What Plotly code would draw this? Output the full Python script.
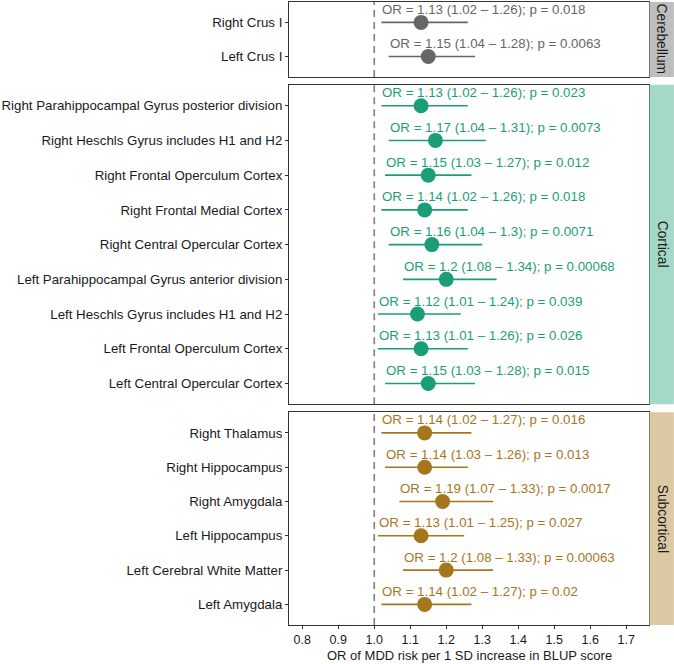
import plotly.graph_objects as go

# ---- data ----
cereb_regions = ["Right Crus I", "Left Crus I"]
cereb_or = [1.13, 1.15]
cereb_lo = [1.02, 1.04]
cereb_hi = [1.26, 1.28]
cereb_p = ["0.018", "0.0063"]

cort_regions = [
    "Right Parahippocampal Gyrus posterior division",
    "Right Heschls Gyrus includes H1 and H2",
    "Right Frontal Operculum Cortex",
    "Right Frontal Medial Cortex",
    "Right Central Opercular Cortex",
    "Left Parahippocampal Gyrus anterior division",
    "Left Heschls Gyrus includes H1 and H2",
    "Left Frontal Operculum Cortex",
    "Left Central Opercular Cortex",
]
cort_or = [1.13, 1.17, 1.15, 1.14, 1.16, 1.2, 1.12, 1.13, 1.15]
cort_lo = [1.02, 1.04, 1.03, 1.02, 1.04, 1.08, 1.01, 1.01, 1.03]
cort_hi = [1.26, 1.31, 1.27, 1.26, 1.3, 1.34, 1.24, 1.26, 1.28]
cort_p = ["0.023", "0.0073", "0.012", "0.018", "0.0071", "0.00068", "0.039", "0.026", "0.015"]

sub_regions = [
    "Right Thalamus",
    "Right Hippocampus",
    "Right Amygdala",
    "Left Hippocampus",
    "Left Cerebral White Matter",
    "Left Amygdala",
]
sub_or = [1.14, 1.14, 1.19, 1.13, 1.2, 1.14]
sub_lo = [1.02, 1.03, 1.07, 1.01, 1.08, 1.02]
sub_hi = [1.27, 1.26, 1.33, 1.25, 1.33, 1.27]
sub_p = ["0.016", "0.013", "0.0017", "0.027", "0.00063", "0.02"]

groups = ["Cerebellum", "Cortical", "Subcortical"]
x_ticks = [0.8, 0.9, 1.0, 1.1, 1.2, 1.3, 1.4, 1.5, 1.6, 1.7]
x_title = "OR of MDD risk per 1 SD increase in BLUP score"

# ---- styling ----
point_colors = ["#666666", "#1B9E77", "#A6761D"]
strip_colors = ["#BEBEBE", "#A4D8C8", "#DCC9A3"]
FONT = "Liberation Sans, Arial, sans-serif"
FS = 13.3
W, H = 674, 664
ML, MR, MT, MB = 287, 25, 1, 39
plot_h = H - MT - MB
plot_w = W - ML - MR
bottom_px = H - MB

def frac(py):
    return (bottom_px - py) / plot_h

domains = [
    [frac(76), 1.0],
    [frac(404), frac(84)],
    [0.0, frac(412)],
]

data = [
    (cereb_regions, cereb_or, cereb_lo, cereb_hi, cereb_p),
    (cort_regions, cort_or, cort_lo, cort_hi, cort_p),
    (sub_regions, sub_or, sub_lo, sub_hi, sub_p),
]

fig = go.Figure()
annotations = []
shapes = []
xrange_ = [0.763, 1.7635]

for i, (regions, ors, los, his, ps) in enumerate(data):
    n = i + 1
    xa = "x" if n == 1 else f"x{n}"
    ya = "y" if n == 1 else f"y{n}"
    col = point_colors[i]
    fig.add_trace(go.Scatter(
        x=ors, y=regions, xaxis=xa, yaxis=ya, mode="markers",
        marker=dict(size=15, color=col),
        error_x=dict(type="data", symmetric=False,
                     array=[h - o for h, o in zip(his, ors)],
                     arrayminus=[o - l for o, l in zip(ors, los)],
                     width=0, thickness=1.6, color=col),
        showlegend=False, hoverinfo="skip",
    ))
    for r, o, l, h, p in zip(regions, ors, los, his, ps):
        annotations.append(dict(
            x=l, y=r, xref=xa, yref=ya, xanchor="left", yanchor="middle",
            yshift=13, xshift=-1, showarrow=False,
            text=f"OR = {o:g} ({l:g} \u2013 {h:g}); p = {p}",
            font=dict(family=FONT, size=FS, color=col),
        ))
    # dashed reference line at 1.0
    shapes.append(dict(type="line", xref=xa, yref=f"{ya} domain",
                       x0=1.0, x1=1.0, y0=0, y1=1,
                       line=dict(color="#7F7F7F", width=1.6, dash="7px,5px"),
                       layer="below"))
    # strip
    d = domains[i]
    shapes.append(dict(type="rect", xref="paper", yref="paper",
                       x0=1.0 + 0.5 / plot_w, x1=1.0 + MR / plot_w, y0=d[0], y1=d[1],
                       fillcolor=strip_colors[i], line=dict(width=0)))
    annotations.append(dict(
        x=1.0 + (MR / 2 + 0.5) / plot_w, y=(d[0] + d[1]) / 2, xref="paper", yref="paper",
        text=groups[i], textangle=90, showarrow=False,
        xanchor="center", yanchor="middle",
        font=dict(family=FONT, size=13.8, color="#1A1A1A"),
    ))
    nreg = len(regions)
    yaxis = dict(
        domain=d, anchor=xa, type="category",
        categoryorder="array", categoryarray=regions,
        range=[nreg - 0.4, -0.6],
        showline=True, mirror=True, linecolor="#333333", linewidth=1,
        ticks="outside", ticklen=3, tickcolor="#333333", tickwidth=1,
        showgrid=False, zeroline=False,
        tickfont=dict(family=FONT, size=FS, color="#1A1A1A"),
    )
    xaxis = dict(
        domain=[0, 1], anchor=ya, range=xrange_,
        showline=True, mirror=True, linecolor="#333333", linewidth=1,
        showgrid=False, zeroline=False,
        tickvals=x_ticks, ticktext=[f"{t:.1f}" for t in x_ticks],
        showticklabels=(n == 3),
        ticks="outside" if n == 3 else "", ticklen=3, tickcolor="#333333",
        tickfont=dict(family=FONT, size=12.5, color="#1A1A1A"),
    )
    if n != 1:
        xaxis["matches"] = "x"
    fig.layout[f"xaxis{'' if n == 1 else n}"] = xaxis
    fig.layout[f"yaxis{'' if n == 1 else n}"] = yaxis

# x-axis title placed at the very bottom of the figure
annotations.append(dict(
    x=0.5, y=-MB / plot_h, xref="paper", yref="paper",
    xanchor="center", yanchor="bottom", showarrow=False, borderpad=0,
    text=x_title, font=dict(family=FONT, size=13, color="#1A1A1A"),
))

fig.update_layout(
    width=W, height=H,
    margin=dict(l=ML, r=MR, t=MT, b=MB),
    paper_bgcolor="white", plot_bgcolor="white",
    annotations=annotations, shapes=shapes,
    font=dict(family=FONT),
)

fig.write_html("out.html")
